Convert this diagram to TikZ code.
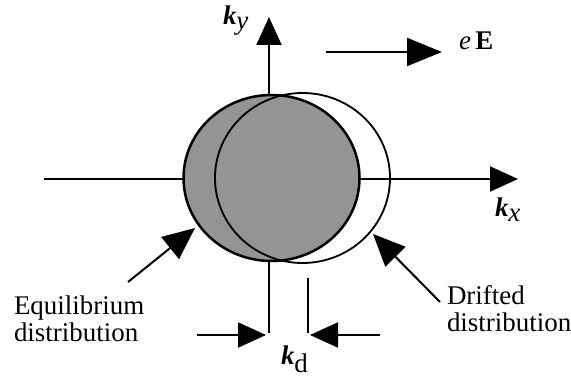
\documentclass[tikz,border=0pt]{standalone}
\usepackage{fontspec}
\setmainfont{Liberation Serif}[Ligatures=TeX]
\usetikzlibrary{arrows.meta}
\newcommand{\kvec}[1]{\textbf{\textit{k}}$_{#1}$}

\begin{document}
\begin{tikzpicture}[x=0.03cm, y=-0.03cm, line width=0.06cm, every node/.style={font=\rmfamily\fontsize{23}{23}\selectfont, inner sep=0pt}, >={Triangle[length=0.84cm, width=0.75cm]}]
	\useasboundingbox (0,0) rectangle (571,377);
	\coordinate (kxtail) at (44,179);
	\coordinate (kxtip) at (518,179);
	\coordinate (kytail) at (269,333);
	\coordinate (kytip) at (269,17);
	\draw[->] (kxtail) -- (kxtip);
	\draw[->] (kytail) -- (kytip);
	\node[anchor=base west] (kylabel) at (222,25) {\kvec{\textit{y}}};
	\node[anchor=base west] (kxlabel) at (494,217) {\kvec{\textit{x}}};
	% field
	\coordinate (Etail) at (326,52);
	\coordinate (Etip) at (442,52);
	\draw[->, >={Triangle[length=1.05cm, width=0.84cm]}] (Etail) -- (Etip);
	\node[anchor=base west] (Elabel) at (458,50) {\textit{e}\,\textbf{E}};
	% distributions
	\fill[black!42] (271.5,178) ellipse [x radius=88, y radius=83];
	\draw[line width=0.075cm] (271.5,178) ellipse [x radius=88, y radius=83];
	\draw[line width=0.055cm] (302.5,178) ellipse [x radius=87.5, y radius=85];
	% drift k_d
	\coordinate (kdtop) at (308,278);
	\coordinate (kdbot) at (308,333);
	\draw (kdtop) -- (kdbot);
	\coordinate (kdleft) at (197,335);
	\coordinate (kdlefttip) at (266,335);
	\coordinate (kdright) at (380,335);
	\coordinate (kdrighttip) at (310,335);
	\draw[->] (kdleft) -- (kdlefttip);
	\draw[->] (kdright) -- (kdrighttip);
	\node[anchor=base west] (kdlabel) at (280,364) {\kvec{\textup{d}}};
	% labels
	\node[anchor=north west, align=left] (eqlabel) at (13,294.6) {Equilibrium\\distribution};
	\node[anchor=north west, align=left] (drlabel) at (446,284.6) {Drifted\\distribution};
	\coordinate (eqtail) at (128,282);
	\coordinate (eqtip) at (195,228);
	\coordinate (drtail) at (440,302);
	\coordinate (drtip) at (373,234);
	\draw[->, >={Triangle[length=0.96cm, width=0.84cm]}] (eqtail) -- (eqtip);
	\draw[->, >={Triangle[length=0.96cm, width=0.84cm]}] (drtail) -- (drtip);
\end{tikzpicture}
\end{document}
